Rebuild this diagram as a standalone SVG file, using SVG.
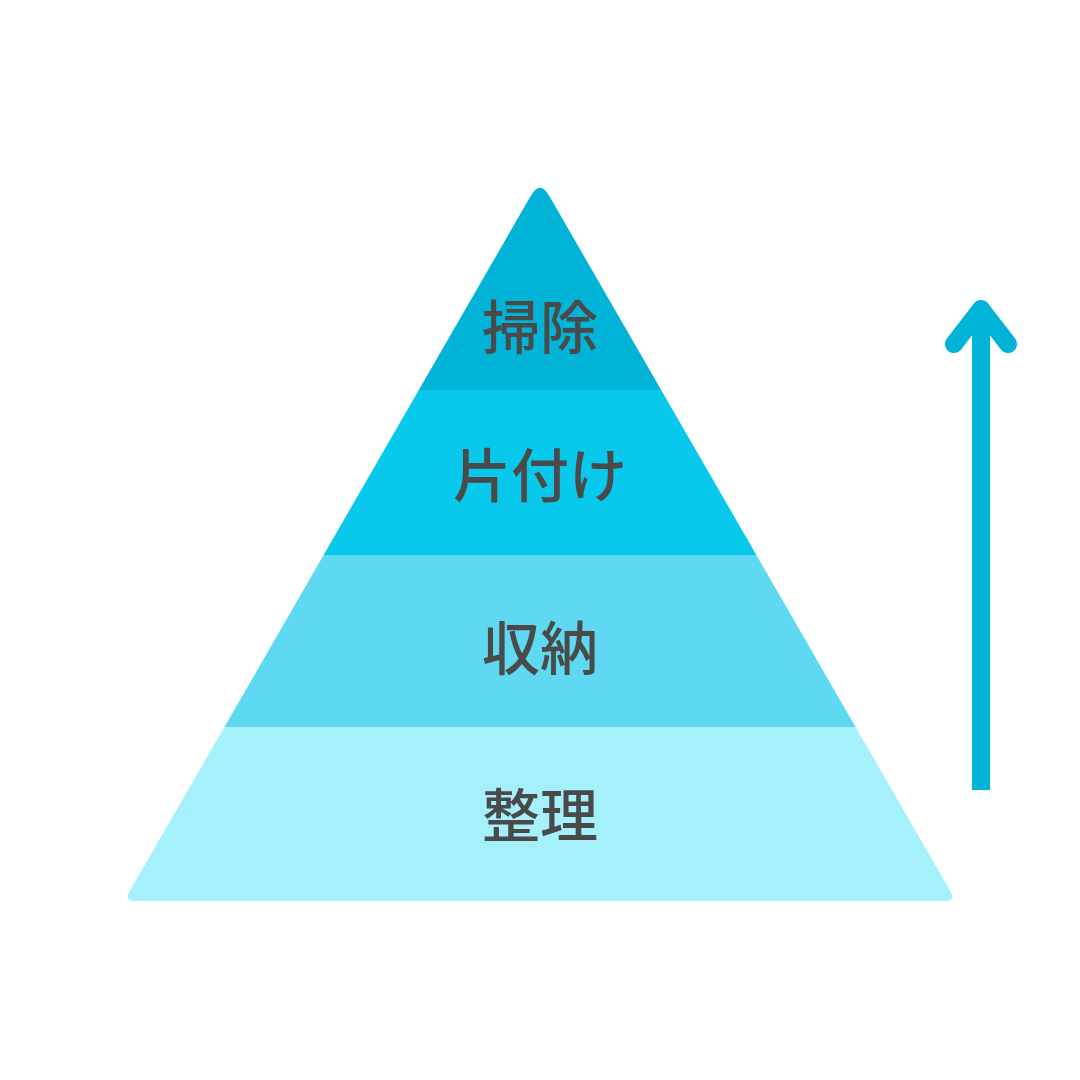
<svg xmlns="http://www.w3.org/2000/svg" width="1080" height="1080" viewBox="0 0 1080 1080">
<style>
.lbl{font-family:"Noto Sans CJK JP","Noto Sans",sans-serif;font-size:58px;font-weight:500;fill:#4a4a4a;text-anchor:middle;dominant-baseline:central}
</style>
<defs>
<clipPath id="tri">
<path d="M530.96,195.57 Q540,180 549.04,195.57 L950,890.6 Q956,901 944,901 L136,901 Q124,901 130,890.6 Z"/>
</clipPath>
</defs>
<rect width="1080" height="1080" fill="#ffffff"/>
<g clip-path="url(#tri)">
<g id="level4"><rect x="0" y="150" width="1080" height="240" fill="#01b3d6"/><text class="lbl" x="540" y="324">掃除</text></g>
<g id="level3"><rect x="0" y="390" width="1080" height="165" fill="#08c8ec"/><text class="lbl" x="540" y="472">片付け</text></g>
<g id="level2"><rect x="0" y="555" width="1080" height="172" fill="#5fd9f1"/><text class="lbl" x="540" y="645">収納</text></g>
<g id="level1"><rect x="0" y="727" width="1080" height="200" fill="#a4f1fc"/><text class="lbl" x="540" y="812">整理</text></g>
</g>
<g id="connectors">
<line x1="981" y1="790" x2="981" y2="318" stroke="#01b3d6" stroke-width="18"/>
<polyline points="954,344 981,309 1008,344" fill="none" stroke="#01b3d6" stroke-width="18" stroke-linecap="round" stroke-linejoin="round"/>
</g>
</svg>
